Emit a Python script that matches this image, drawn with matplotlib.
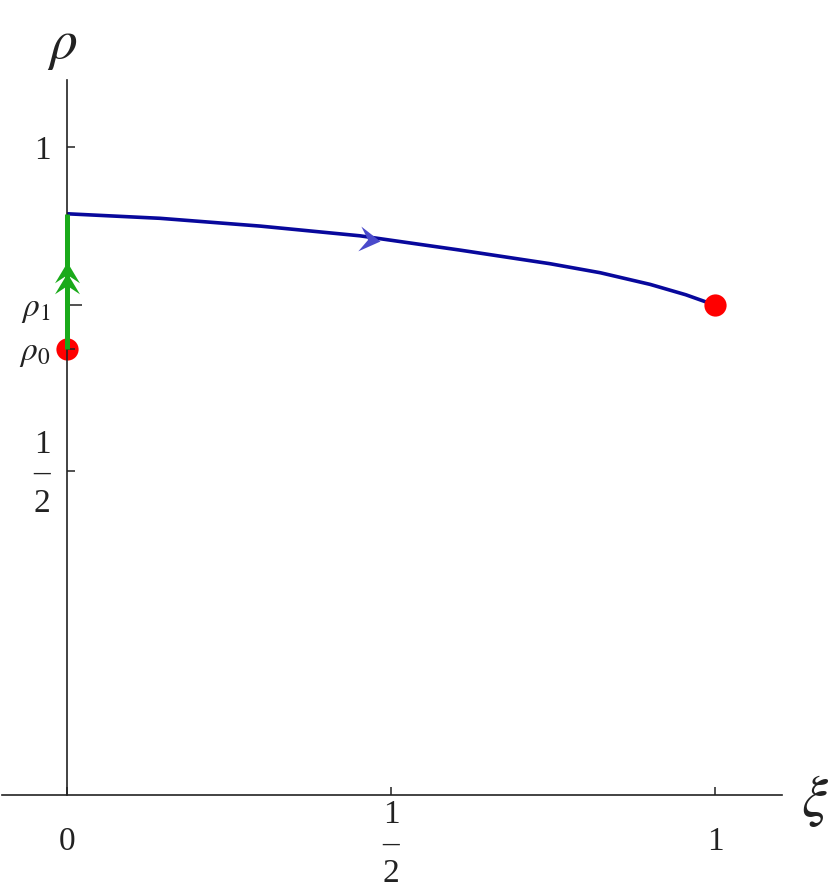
import numpy as np
import matplotlib.pyplot as plt
from matplotlib.markers import MarkerStyle
from matplotlib.path import Path
from matplotlib.transforms import Affine2D, offset_copy

plt.rcParams['mathtext.fontset'] = 'stix'

# blue trajectory (xi, rho)
curve_xi = [0.0, 0.1435, 0.298, 0.452, 0.606, 0.745, 0.823, 0.900, 0.955, 1.0]
curve_rho = [0.897, 0.890, 0.878, 0.863, 0.841, 0.820, 0.806, 0.788, 0.772, 0.756]

rho0 = 0.688
rho1 = 0.756
green_xi = [0.0, 0.0]
green_rho = [rho0, 0.897]

dot_xi = [0.0, 1.0]
dot_rho = [rho0, rho1]

# arrow heads: tip positions and direction (deg)
blue_arrow = (0.483, 0.855, -7)
green_arrows = [(0.0, 0.8225, 90), (0.0, 0.8056, 90)]

ytick_vals = [0.5, rho0, rho1, 1.0]
ytick_labels = ['1\n\u2013\n2', r'$\rho_0$', r'$\rho_1$', '1']
xtick_vals = [0.0, 0.5, 1.0]
xtick_labels = ['0', '1\n\u2013\n2', '1']
# baseline of the last text line below the axis, in pixels
xtick_drop = [55, 87, 55]

ink = '#222222'
serif = ['Liberation Serif', 'DejaVu Serif']


def head(angle):
    # stealth-like arrow head with tip at the origin
    verts = [(0, 0), (-1, 0.6), (-0.6, 0), (-1, -0.6), (0, 0)]
    codes = [Path.MOVETO, Path.LINETO, Path.LINETO, Path.LINETO, Path.CLOSEPOLY]
    return MarkerStyle(Path(verts, codes), transform=Affine2D().rotate_deg(angle))


fig = plt.figure(figsize=(8.3, 8.88), dpi=100)
ax = fig.add_axes([0, 0, 1, 1])
ax.set_xlim(-0.1034, 1.1775)
ax.set_ylim(-0.1435, 1.2269)

ax.plot(curve_xi, curve_rho, color='#08089c', lw=2.6, zorder=2, solid_capstyle='butt')
ax.plot(green_xi, green_rho, color='#1aaa1a', lw=3.6, zorder=4, solid_capstyle='butt')
ax.plot(dot_xi, dot_rho, 'o', color='#ff0000', ms=16, mec='none', zorder=2.2, clip_on=False)

bx, by, ba = blue_arrow
ax.plot([bx], [by], marker=head(ba), ms=30, color='#4a4acb', mec='none', zorder=5)
for gx, gy, ga in green_arrows:
    ax.plot([gx], [gy], marker=head(ga), ms=30, color='#1aaa1a', mec='none', zorder=5)

for s in ['top', 'right']:
    ax.spines[s].set_visible(False)
ax.spines['left'].set_position(('data', 0))
ax.spines['bottom'].set_position(('data', 0))
ax.spines['left'].set_bounds(0, 1.103)
ax.spines['bottom'].set_bounds(-0.1, 1.103)
for s in ['left', 'bottom']:
    ax.spines[s].set_color(ink)
    ax.spines[s].set_linewidth(1.2)
ax.set_axisbelow(False)

ax.set_yticks(ytick_vals, ytick_labels)
ax.set_xticks(xtick_vals)
ax.tick_params(direction='in', length=6, width=1.1, color=ink, labelcolor=ink, labelsize=24)
ax.tick_params(axis='y', pad=12)
ax.tick_params(axis='x', labelbottom=False)
for lbl in ax.get_yticklabels():
    lbl.set_fontfamily(serif)
    lbl.set_multialignment('center')
    lbl.set_linespacing(0.95)
ax.yaxis.get_major_ticks()[2].tick1line.set_color('#2020d0')
ax.yaxis.get_major_ticks()[2].tick1line.set_markersize(11)

# x labels hung under the axis by the baseline of their last line
for xv, lab, drop in zip(xtick_vals, xtick_labels, xtick_drop):
    tr = offset_copy(ax.transData, fig=fig, x=0, y=-drop, units='dots')
    ax.text(xv, 0, lab, transform=tr, ha='center', va='baseline', fontsize=24,
            family=serif, color=ink, linespacing=0.95, multialignment='center')

ax.text(-0.008, 1.157, r'$\rho$', fontsize=40, ha='center', va='center', color=ink)
ax.text(1.154, -0.008, r'$\xi$', fontsize=42, ha='center', va='center', color=ink)

fig.savefig('out.png', dpi=100)
